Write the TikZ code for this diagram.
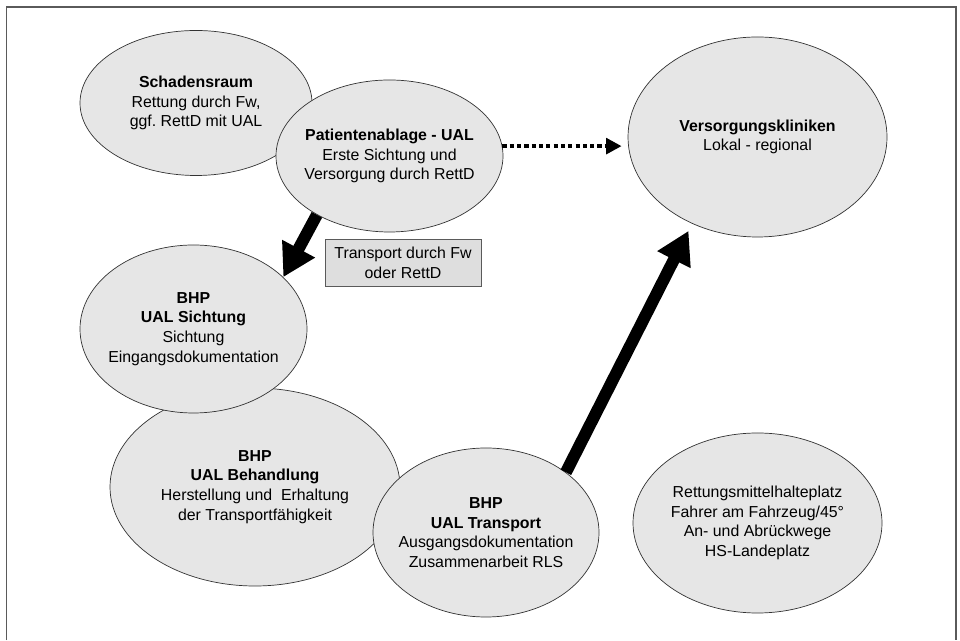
\documentclass[tikz,border=0pt]{standalone}
\usepackage{fontspec}
\setmainfont{Liberation Sans}
\usetikzlibrary{shapes.geometric,arrows.meta}
\definecolor{ovFill}{HTML}{E6E6E6}
\definecolor{ovLine}{HTML}{333333}
\definecolor{boxFill}{HTML}{DEDEDE}
\definecolor{frameGrey}{HTML}{5A5A5A}

\begin{document}
\begin{tikzpicture}[font=\fontsize{11.3}{14}\selectfont,
  ov/.style={ellipse,draw=ovLine,fill=ovFill,line width=0.5pt,inner sep=0pt},
  txt/.style={align=center,inner sep=0pt},
  fat/.style={-{Triangle[length=23pt,width=25pt]},line width=8.5pt},
  dots/.style={-{Triangle[length=11pt,width=11pt]},line width=3pt,
               dash pattern=on 3pt off 2.2pt,shorten >=0.15cm}]
\useasboundingbox (0,0) rectangle (24,16);
\draw[frameGrey,line width=1pt] (0.16,0) |- (23.9,15.825) -- (23.9,0);
\node[ov,minimum width=5.8cm,minimum height=3.625cm] (schaden) at (4.9,13.425) {};
\node[txt] (schadenT) at (schaden) {\textbf{Schadensraum}\\ Rettung durch Fw,\\ ggf.\ RettD mit UAL};
\node[ov,minimum width=5.675cm,minimum height=3.8cm] (ablage) at (9.7375,12.1) {};
\node[txt] (ablageT) at (ablage) {\textbf{Patientenablage - UAL}\\ Erste Sichtung und\\ Versorgung durch RettD};
\node[ov,minimum width=7.25cm,minimum height=4.95cm] (behandlung) at (6.375,3.825) {};
\node[txt] (behandlungT) at (behandlung) {\textbf{BHP}\\ \textbf{UAL Behandlung}\\ Herstellung und~ Erhaltung\\ der Transportfähigkeit};
\node[ov,minimum width=5.675cm,minimum height=4.2cm] (sichtung) at (4.8375,7.775) {};
\node[txt] (sichtungT) at (sichtung) {\textbf{BHP}\\ \textbf{UAL Sichtung}\\ Sichtung\\ Eingangsdokumentation};
\node[ov,minimum width=5.65cm,minimum height=4.225cm] (transport) at (12.15,2.6875) {};
\node[txt] (transportT) at (transport) {\textbf{BHP}\\ \textbf{UAL Transport}\\ Ausgangsdokumentation\\ Zusammenarbeit RLS};
\node[ov,minimum width=6.475cm,minimum height=5.0cm] (klinik) at (18.9375,12.575) {};
\node[txt] (klinikT) at (klinik) {\textbf{Versorgungskliniken}\\ Lokal - regional};
\node[ov,minimum width=6.225cm,minimum height=4.5cm] (halte) at (18.9375,2.925) {};
\node[txt] (halteT) at (halte) {Rettungsmittelhalteplatz\\ Fahrer am Fahrzeug/45°\\ An- und Abrückwege\\ HS-Landeplatz};
\node[draw=frameGrey,fill=boxFill,line width=0.6pt,minimum width=3.9cm,minimum height=1.175cm,
      align=center,inner sep=0pt] (fahrt) at (10.075,9.4375) {Transport durch Fw\\ oder RettD};
\draw[fat] (ablage.219) -- (sichtung.30);
\draw[fat,shorten >=0.2cm] (transport.37) -- (klinik.233);
\draw[dots] (ablage.5) -- (ablage.5 -| klinik.west);
\end{tikzpicture}
\end{document}
